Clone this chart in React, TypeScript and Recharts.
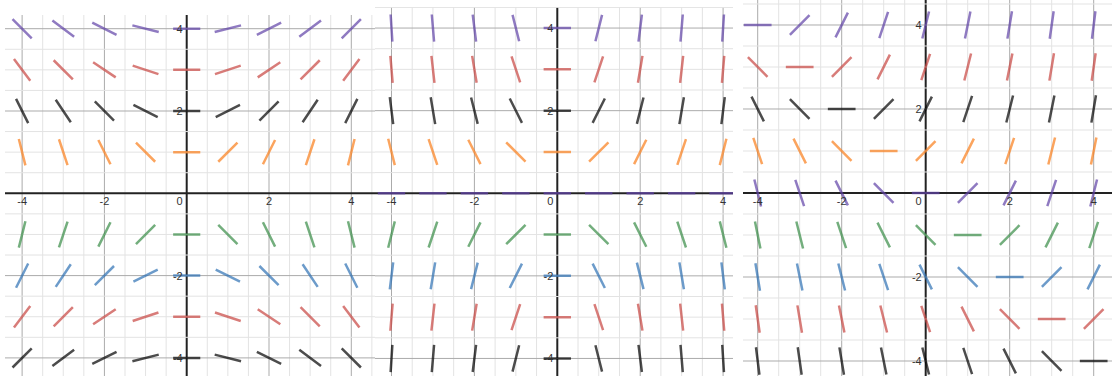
import React from 'react';
import { LineChart, Line, XAxis, YAxis, ReferenceLine, Scatter } from 'recharts';

// Grid of sample points (same for all three slope fields)
const X_VALUES = [-4, -3, -2, -1, 0, 1, 2, 3, 4];
const Y_ROWS = [4, 3, 2, 1, 0, -1, -2, -3, -4];
const ROW_COLORS = ['#6042a6', '#c74440', '#000000', '#fa7e19', '#6042a6', '#388c46', '#2d70b3', '#c74440', '#000000'];

// Panel 1 slopes (row y = 4 .. -4, column x = -4 .. 4); row y=0 is empty
const P1_SLOPES: (number[] | null)[] = [
  [-1, -0.75, -0.5, -0.25, 0, 0.25, 0.5, 0.75, 1],
  [-1.333, -1, -0.667, -0.333, 0, 0.333, 0.667, 1, 1.333],
  [-2, -1.5, -1, -0.5, 0, 0.5, 1, 1.5, 2],
  [-4, -3, -2, -1, 0, 1, 2, 3, 4],
  null,
  [4, 3, 2, 1, 0, -1, -2, -3, -4],
  [2, 1.5, 1, 0.5, 0, -0.5, -1, -1.5, -2],
  [1.333, 1, 0.667, 0.333, 0, -0.333, -0.667, -1, -1.333],
  [1, 0.75, 0.5, 0.25, 0, -0.25, -0.5, -0.75, -1],
];

// Panel 2 slopes
const P2_SLOPES: (number[] | null)[] = [
  [-16, -12, -8, -4, 0, 4, 8, 12, 16],
  [-12, -9, -6, -3, 0, 3, 6, 9, 12],
  [-8, -6, -4, -2, 0, 2, 4, 6, 8],
  [-4, -3, -2, -1, 0, 1, 2, 3, 4],
  [0, 0, 0, 0, 0, 0, 0, 0, 0],
  [4, 3, 2, 1, 0, -1, -2, -3, -4],
  [8, 6, 4, 2, 0, -2, -4, -6, -8],
  [12, 9, 6, 3, 0, -3, -6, -9, -12],
  [16, 12, 8, 4, 0, -4, -8, -12, -16],
];

// Panel 3 slopes
const P3_SLOPES: (number[] | null)[] = [
  [0, 1, 2, 3, 4, 5, 6, 7, 8],
  [-1, 0, 1, 2, 3, 4, 5, 6, 7],
  [-2, -1, 0, 1, 2, 3, 4, 5, 6],
  [-3, -2, -1, 0, 1, 2, 3, 4, 5],
  [-4, -3, -2, -1, 0, 1, 2, 3, 4],
  [-5, -4, -3, -2, -1, 0, 1, 2, 3],
  [-6, -5, -4, -3, -2, -1, 0, 1, 2],
  [-7, -6, -5, -4, -3, -2, -1, 0, 1],
  [-8, -7, -6, -5, -4, -3, -2, -1, 0],
];

const X_TICKS = [-4, -2, 2, 4];
const Y_TICKS = [4, 2, -2, -4];
const ZERO_LABEL = ['0'];

const HALF_LEN = 0.33;

type PanelProps = {
  left: number; top: number; width: number; height: number;
  xDomain: [number, number]; yDomain: [number, number];
  slopes: (number[] | null)[];
};

function buildRow(y0: number, slopes: number[]) {
  const pts: { x: number; y: number | null }[] = [];
  slopes.forEach((m, i) => {
    const x0 = X_VALUES[i];
    const dx = HALF_LEN / Math.sqrt(1 + m * m);
    const dy = m * dx;
    pts.push({ x: x0 - dx, y: y0 - dy });
    pts.push({ x: x0 + dx, y: y0 + dy });
    pts.push({ x: x0 + 0.5, y: null });
  });
  return pts;
}

function gridValues(min: number, max: number) {
  const out: number[] = [];
  for (let v = Math.ceil(min * 2) / 2; v <= max; v += 0.5) out.push(v);
  return out;
}

const MINOR = '#e3e3e3';
const MAJOR = '#ababab';
const AXIS = '#222222';
const LABEL = '#333333';
const FONT = 'Arial, "Liberation Sans", sans-serif';

function Panel({ left, top, width, height, xDomain, yDomain, slopes }: PanelProps) {
  const xs = gridValues(xDomain[0], xDomain[1]);
  const ys = gridValues(yDomain[0], yDomain[1]);
  const kind = (v: number) => (v === 0 ? 'axis' : v % 2 === 0 ? 'major' : 'minor');
  const order = ['minor', 'major', 'axis'];
  const xLabelData = X_TICKS.map((t) => ({ x: t, y: 0, label: String(t) }));
  const yLabelData = Y_TICKS.map((t) => ({ x: 0, y: t, label: String(t) }));
  const zeroData = ZERO_LABEL.map((l) => ({ x: 0, y: 0, label: l }));
  return (
    <div style={{ position: 'absolute', left, top, width, height }}>
      <LineChart width={width} height={height} margin={{ top: 0, right: 0, bottom: 0, left: 0 }}>
        <XAxis dataKey="x" type="number" domain={xDomain} allowDataOverflow hide />
        <YAxis dataKey="y" type="number" domain={yDomain} allowDataOverflow hide />
        {order.map((k) =>
          xs.filter((v) => kind(v) === k).map((v) => (
            <ReferenceLine key={`vx${k}${v}`} x={v} stroke={k === 'axis' ? AXIS : k === 'major' ? MAJOR : MINOR} strokeWidth={k === 'axis' ? 2 : 1} />
          ))
        )}
        {order.map((k) =>
          ys.filter((v) => kind(v) === k).map((v) => (
            <ReferenceLine key={`hy${k}${v}`} y={v} stroke={k === 'axis' ? AXIS : k === 'major' ? MAJOR : MINOR} strokeWidth={k === 'axis' ? 2 : 1} />
          ))
        )}
        {Y_ROWS.map((y0, r) =>
          slopes[r] ? (
            <Line
              key={`row${r}`}
              data={buildRow(y0, slopes[r] as number[])}
              dataKey="y"
              stroke={ROW_COLORS[r]}
              strokeOpacity={0.7}
              strokeWidth={2.5}
              dot={false}
              activeDot={false}
              connectNulls={false}
              isAnimationActive={false}
              strokeLinecap="butt"
            />
          ) : null
        )}
        <Scatter
          data={xLabelData}
          dataKey="y"
          isAnimationActive={false}
          shape={(p: any) => (
            <text x={p.cx} y={p.cy + 12} textAnchor="middle" fontSize={11} fontFamily={FONT} fill={LABEL}>
              {p.payload.label}
            </text>
          )}
        />
        <Scatter
          data={yLabelData}
          dataKey="y"
          isAnimationActive={false}
          shape={(p: any) => (
            <text x={p.cx - 4} y={p.cy + 4} textAnchor="end" fontSize={11} fontFamily={FONT} fill={LABEL}>
              {p.payload.label}
            </text>
          )}
        />
        <Scatter
          data={zeroData}
          dataKey="y"
          isAnimationActive={false}
          shape={(p: any) => (
            <text x={p.cx - 4} y={p.cy + 12} textAnchor="end" fontSize={11} fontFamily={FONT} fill={LABEL}>
              {p.payload.label}
            </text>
          )}
        />
      </LineChart>
    </div>
  );
}

export default function App() {
  return (
    <div style={{ position: 'absolute', left: 0, top: 0, width: 1112, height: 376, overflow: 'hidden', background: '#ffffff' }}>
      <Panel left={5} top={15} width={370} height={361} xDomain={[-4.416, 4.576]} yDomain={[-4.44, 4.333]} slopes={P1_SLOPES} />
      <Panel left={375} top={7} width={358} height={369} xDomain={[-4.398, 4.239]} yDomain={[-4.425, 4.51]} slopes={P2_SLOPES} />
      <Panel left={743} top={0} width={369} height={376} xDomain={[-4.35, 4.436]} yDomain={[-4.357, 4.595]} slopes={P3_SLOPES} />
    </div>
  );
}
